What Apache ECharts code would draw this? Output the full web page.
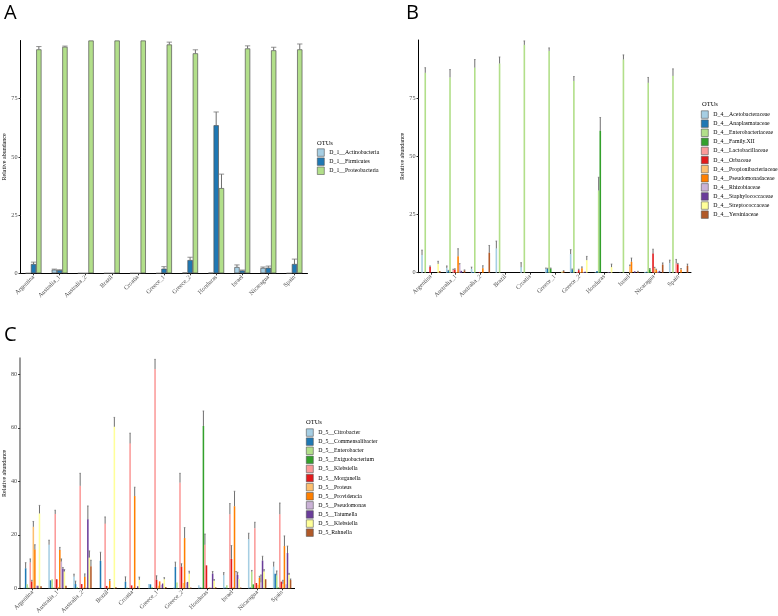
<!DOCTYPE html>
<html><head><meta charset="utf-8">
<script src="https://cdn.jsdelivr.net/npm/echarts@6/dist/echarts.min.js"></script>
<style>html,body{margin:0;padding:0;background:#fff}#c{width:778px;height:616px}</style>
</head><body><div id="c"></div>
<script>
const categories = ['Argentina','Australia_1','Australia_2','Brazil','Croatia','Greece_1','Greece_2','Honduras','Israel','Nicaragua','Spain'];
const palette = ['#A6CEE3','#1F78B4','#B2DF8A','#33A02C','#FB9A99','#E31A1C','#FDBF6F','#FF7F00','#CAB2D6','#6A3D9A','#FFFF99','#B15928'];

// Panel A (phylum)
const aNames = ['D_1__Actinobacteria','D_1__Firmicutes','D_1__Proteobacteria'];
const aActino   = [0, 1.6, 0, 0, 0, 0, 0.3, 0.2, 2.7, 2.3, 0];
const aActinoUp = [0, 1.8, 0, 0, 0, 0, 0, 0, 3.6, 2.7, 0];
const aFirm     = [4.0, 1.4, 0, 0, 0, 2.0, 5.7, 63.6, 1.2, 2.4, 4.0];
const aFirmUp   = [4.8, 1.5, 0, 0, 0, 2.85, 6.9, 69.3, 1.4, 3.1, 6.1];
const aProt     = [96.2, 97.3, 100, 100, 100, 98.3, 94.5, 36.6, 96.6, 95.8, 96.2];
const aProtUp   = [97.4, 97.6, 0, 0, 0, 99.3, 96.0, 42.6, 97.7, 97.1, 98.5];

// Panel B (family)
const bNames = ['D_4__Acetobacteraceae','D_4__Anaplasmataceae','D_4__Enterobacteriaceae','D_4__Family.XII','D_4__Lactobacillaceae','D_4__Orbaceae','D_4__Propionibacteriaceae','D_4__Pseudomonadaceae','D_4__Rhizobiaceae','D_4__Staphylococcaceae','D_4__Streptococcaceae','D_4__Yersiniaceae'];
const bAceto    = [7.6, 2.0, 1.7, 10.4, 2.4, 1.8, 8.0, 0.2, 0.1, 0.3, 4.2];
const bAcetoUp  = [9.7, 2.9, 2.4, 13.6, 4.3, 2.0, 9.9, 0, 0, 0, 5.4];
const bAnapl    = [0, 0.8, 0.3, 0, 0, 1.7, 1.4, 0.7, 0, 0.4, 0];
const bAnaplUp  = [0, 1.0, 0, 0, 0, 1.9, 1.6, 0, 0, 0, 0];
const bEntero   = [85.9, 83.9, 88.1, 89.9, 97.9, 95.3, 82.4, 35.3, 91.6, 81.6, 84.6];
const bEnteroUp = [88.1, 87.3, 91.6, 92.7, 99.6, 96.6, 84.3, 41.0, 93.6, 83.9, 87.6];
const bFamXII   = [0, 0, 0, 0, 0, 1.8, 0, 61.0, 0, 1.5, 0];
const bFamXIIUp = [0, 0, 0, 0, 0, 2.0, 0, 66.7, 0, 1.8, 0];
const bLacto    = [0, 1.2, 0, 0, 0, 0, 0.3, 0, 0, 0, 4.0];
const bLactoUp  = [0, 1.5, 0, 0, 0, 0, 0, 0, 0, 0, 5.7];
const bOrb      = [2.6, 1.4, 0.3, 0, 0, 0, 1.1, 0, 0, 8.2, 3.6];
const bOrbUp    = [2.9, 1.7, 0, 0, 0, 0, 1.5, 0, 0, 10.1, 4.0];
const bPropi    = [0, 0.3, 0, 0, 0, 0, 0.3, 0, 2.8, 2.0, 0];
const bPropiUp  = [0, 0, 0, 0, 0, 0, 0, 0, 3.3, 2.3, 0];
const bPseudo   = [0, 7.1, 1.9, 0, 0, 0, 1.9, 0, 4.7, 1.2, 1.4];
const bPseudoUp = [0, 10.3, 3.0, 0, 0, 0, 2.5, 0, 6.3, 1.5, 1.8];
const bRhizo    = [0, 3.5, 0, 0, 0, 0, 0.3, 0.2, 0, 0.5, 0];
const bRhizoUp  = [0, 3.9, 0, 0, 0, 0, 0, 0, 0, 0, 0];
const bStaph    = [0, 0.8, 0, 0, 0, 0, 0.4, 0.2, 0.6, 0.8, 0];
const bStaphUp  = [0, 0, 0, 0, 0, 0, 0, 0, 0, 0, 0];
const bStrep    = [3.8, 0, 0, 0, 0, 0.5, 5.4, 2.4, 0, 0, 0];
const bStrepUp  = [4.9, 0, 0, 0, 0, 0, 7.0, 3.7, 0, 0, 0];
const bYers     = [0.7, 1.0, 8.6, 0, 0, 0.7, 0, 0, 0.5, 3.5, 3.0];
const bYersUp   = [0, 1.2, 11.7, 0, 0, 0.9, 0, 0, 0.6, 4.2, 3.7];

// Panel C (genus)
const cNames = ['D_5__Citrobacter','D_5__Commensalibacter','D_5__Enterobacter','D_5__Exiguobacterium','D_5__Klebsiella','D_5__Morganella','D_5__Proteus','D_5__Providencia','D_5__Pseudomonas','D_5__Tatumella','D_5__Klebsiella ','D_5_Rahnella'];
const cCitro     = [0.3, 16.3, 4.4, 0, 0, 1.6, 0.3, 1.2, 4.9, 18.4, 8.1];
const cCitroUp   = [0, 18.0, 5.3, 0, 0, 0, 0, 0, 5.9, 20.6, 9.8];
const cCommens   = [7.5, 3.0, 1.6, 10.3, 2.5, 1.5, 8.0, 0.3, 0.3, 0.3, 5.5];
const cCommensUp = [9.6, 0, 2.7, 13.5, 4.3, 0, 9.8, 0, 0, 0, 0];
const cEntero    = [1.5, 3.4, 0.5, 0, 0.3, 0.5, 2.2, 0.3, 1.2, 6.2, 4.8];
const cEnteroUp  = [0, 0, 0, 0, 0, 0, 0, 0, 0, 6.7, 6.5];
const cExig      = [0.2, 0.2, 0, 0, 0, 0, 0, 60.7, 0, 1.5, 0.3];
const cExigUp    = [0, 0, 0, 0, 0, 0, 0, 66.3, 0, 0, 0];
const cKleb      = [9.7, 27.8, 38.3, 24.2, 54.2, 82.0, 39.5, 16.3, 27.7, 22.5, 27.7];
const cKlebUp    = [11.0, 29.2, 43.0, 26.7, 58.0, 85.6, 43.0, 20.3, 31.7, 24.7, 31.9];
const cMorg      = [2.6, 3.4, 1.6, 0.9, 1.1, 3.2, 8.1, 8.6, 11.0, 2.0, 2.5];
const cMorgUp    = [3.0, 0, 0, 0, 0, 4.7, 9.2, 0, 16.0, 0, 0];
const cProteus   = [23.0, 0.5, 0.3, 0.3, 0.3, 1.0, 2.0, 0, 0.5, 1.3, 1.7];
const cProteusUp = [25.0, 0, 0, 0, 0, 0, 0, 0, 0, 0, 3.0];
const cProvid    = [14.5, 14.3, 4.3, 2.8, 34.5, 2.6, 18.8, 0.3, 30.7, 4.0, 15.8];
const cProvidUp  = [16.3, 15.3, 5.4, 3.3, 37.8, 0, 22.7, 0, 36.3, 4.5, 19.6];
const cPseudo    = [1.0, 10.0, 0.3, 0, 0, 1.3, 2.2, 0.3, 6.0, 2.2, 1.5];
const cPseudoUp  = [0, 11.0, 0, 0, 0, 0, 0, 0, 6.3, 5.0, 0];
const cTatum     = [1.0, 7.3, 25.8, 0, 0.8, 1.8, 2.4, 5.5, 5.0, 10.4, 13.2];
const cTatumUp   = [0, 7.8, 30.8, 0, 0, 0, 0, 6.3, 6.0, 12.0, 15.8];
const cKleb2     = [28.0, 6.3, 11.5, 60.4, 3.2, 3.4, 5.5, 2.8, 3.5, 6.3, 5.0];
const cKleb2Up   = [31.0, 7.0, 14.0, 63.9, 4.2, 4.0, 6.4, 3.3, 0, 7.0, 5.6];
const cRahn      = [0.8, 1.0, 8.3, 0.4, 0, 0.5, 0.3, 0.4, 0.3, 3.4, 3.1];
const cRahnUp    = [0, 0, 10.5, 0, 0, 0, 0, 0, 0, 0, 3.5];

const aVals = [aActino, aFirm, aProt], aUps = [aActinoUp, aFirmUp, aProtUp];
const bVals = [bAceto,bAnapl,bEntero,bFamXII,bLacto,bOrb,bPropi,bPseudo,bRhizo,bStaph,bStrep,bYers];
const bUps  = [bAcetoUp,bAnaplUp,bEnteroUp,bFamXIIUp,bLactoUp,bOrbUp,bPropiUp,bPseudoUp,bRhizoUp,bStaphUp,bStrepUp,bYersUp];
const cVals = [cCitro,cCommens,cEntero,cExig,cKleb,cMorg,cProteus,cProvid,cPseudo,cTatum,cKleb2,cRahn];
const cUps  = [cCitroUp,cCommensUp,cEnteroUp,cExigUp,cKlebUp,cMorgUp,cProteusUp,cProvidUp,cPseudoUp,cTatumUp,cKleb2Up,cRahnUp];

const serif = 'Liberation Serif';
const panels = [
  {names: aNames, vals: aVals, ups: aUps, gap: 0.39, border: 0.7, bc: '#555'},
  {names: bNames, vals: bVals, ups: bUps, gap: 0.22, border: 0, bc: '#6b6b6b'},
  {names: cNames, vals: cVals, ups: cUps, gap: 0.26, border: 0, bc: '#6b6b6b'}
];

const series = [];
panels.forEach((p, pi) => {
  const n = p.names.length;
  p.names.forEach((nm, si) => {
    series.push({
      type: 'bar', name: nm, xAxisIndex: pi, yAxisIndex: pi,
      data: p.vals[si], barGap: '0%', barCategoryGap: (p.gap*100)+'%',
      itemStyle: {color: palette[si], borderColor: p.bc, borderWidth: p.border},
      emphasis: {disabled: true}, animation: false
    });
  });
  const errData = [];
  p.ups.forEach((arr, si) => arr.forEach((u, ci) => {
    if (u > p.vals[si][ci]) errData.push([ci, si, p.vals[si][ci], u]);
  }));
  series.push({
    type: 'custom', xAxisIndex: pi, yAxisIndex: pi, z: 5, animation: false,
    encode: {x: 0, y: [2, 3]}, data: errData, silent: true,
    renderItem: function (params, api) {
      const ci = api.value(0), si = api.value(1), v = api.value(2), u = api.value(3);
      const top = api.coord([ci, u]), bot = api.coord([ci, v]);
      const band = api.size([1, 0])[0];
      const bw = band * (1 - p.gap) / n;
      const x = top[0] + (si - (n - 1) / 2) * bw;
      const ch = [];
      ch.push({type: 'line', shape: {x1: x, y1: top[1], x2: x, y2: bot[1]}, style: {stroke: '#4a4a4a', lineWidth: 0.8}});
      ch.push({type: 'line', shape: {x1: x - bw/2, y1: top[1], x2: x + bw/2, y2: top[1]}, style: {stroke: '#777', lineWidth: 0.8}});
      return {type: 'group', children: ch};
    }
  });
});

function xAx(gi) {
  return {type: 'category', gridIndex: gi, data: categories,
    axisLine: {lineStyle: {color: '#000', width: 1}},
    axisTick: {show: true, length: 2, alignWithLabel: true, lineStyle: {color: '#333'}},
    axisLabel: {rotate: 45, fontFamily: serif, fontSize: 6.2, color: '#4d4d4d', margin: 3, interval: 0}};
}
function yAx(gi, max, interval, axColor, axWidth) {
  return {type: 'value', gridIndex: gi, min: 0, max: max, interval: interval,
    name: 'Relative abundance', nameLocation: 'middle', nameGap: 13, nameRotate: 90,
    nameTextStyle: {fontFamily: serif, fontSize: 6, color: '#000'},
    splitLine: {show: false},
    axisLine: {show: true, lineStyle: {color: axColor, width: axWidth}},
    axisTick: {show: true, length: 2, lineStyle: {color: '#333'}},
    axisLabel: {fontFamily: serif, fontSize: 6.2, color: '#4d4d4d', margin: 3, showMaxLabel: false}};
}
function legend(names, left, top) {
  return {data: names, orient: 'vertical', left: left, top: top, itemWidth: 7, itemHeight: 7.5,
    itemGap: 1, icon: 'rect', selectedMode: false, padding: 0,
    itemStyle: {borderColor: '#555', borderWidth: 0.6},
    textStyle: {fontFamily: serif, fontSize: 5.8, color: '#000', lineHeight: 8}};
}

const chart = echarts.init(document.getElementById('c'), null, {renderer: 'canvas'});
chart.setOption({
  animation: false,
  backgroundColor: '#fff',
  grid: [
    {left: 20.5, width: 287, top: 40.5, height: 232.8},
    {left: 418.5, width: 272.5, top: 40, height: 232.7},
    {left: 17.4, width: 277.2, top: 358.3, height: 232.7}
  ],
  xAxis: [xAx(0), xAx(1), xAx(2)],
  yAxis: [yAx(0, 100, 25, '#000', 1), yAx(1, 100, 25, '#000', 1), yAx(2, 86, 20, '#9a9a9a', 2)],
  legend: [legend(aNames, 317, 148.5), legend(bNames, 701, 110.5), legend(cNames, 306, 428.5)],
  graphic: [
    {type: 'text', left: 4, top: 3, style: {text: 'A', font: '20px "Open Sans"', fill: '#000'}},
    {type: 'text', left: 406, top: 3, style: {text: 'B', font: '20px "Open Sans"', fill: '#000'}},
    {type: 'text', left: 4, top: 325, style: {text: 'C', font: '20px "Open Sans"', fill: '#000'}},
    {type: 'text', left: 317, top: 140, style: {text: 'OTUs', font: '6.5px "Liberation Serif"', fill: '#000'}},
    {type: 'text', left: 702, top: 101, style: {text: 'OTUs', font: '6.5px "Liberation Serif"', fill: '#000'}},
    {type: 'text', left: 306, top: 419, style: {text: 'OTUs', font: '6.5px "Liberation Serif"', fill: '#000'}}
  ],
  series: series
});
</script></body></html>
